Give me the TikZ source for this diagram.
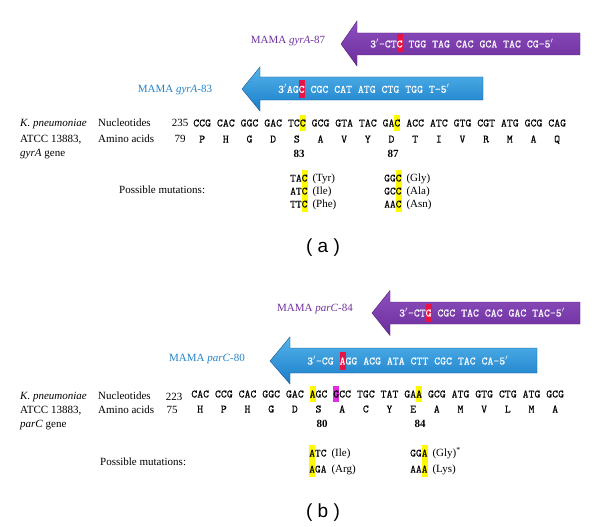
\documentclass[tikz,border=0pt]{standalone}
\usepackage{fontspec}
\setmainfont{Liberation Serif}
\setmonofont{lmmono10-regular.otf}[FakeBold=0.25]
\newfontfamily\panelfont{Liberation Sans}
\usepackage{tikz}

\definecolor{primerpurple}{RGB}{108,45,155}
\definecolor{primerpurpletop}{RGB}{140,80,190}
\definecolor{primerpurpleedge}{RGB}{85,30,125}
\definecolor{primerblue}{RGB}{25,125,200}
\definecolor{primerbluetop}{RGB}{85,180,235}
\definecolor{primerblueedge}{RGB}{20,85,150}
\definecolor{labelpurple}{RGB}{112,48,160}
\definecolor{labelblue}{RGB}{35,130,200}
\definecolor{hlyellow}{RGB}{255,250,0}
\definecolor{hlred}{RGB}{232,20,70}
\definecolor{hlmagenta}{RGB}{225,45,225}

\newcommand{\hlcod}[2]{{\setlength{\fboxsep}{0pt}\colorbox{#1}{\rule[-4.5pt]{0pt}{16.5pt}#2}}}
\newcommand{\hlpr}[1]{{\setlength{\fboxsep}{0pt}\colorbox{hlred}{\rule[-5pt]{0pt}{18pt}#1}}}

\tikzset{
  txt/.style={inner sep=0pt, anchor=base west, font=\fontsize{11}{13}\selectfont},
  txtc/.style={txt, anchor=base},
  cod/.style={inner sep=0pt, anchor=base west, font=\ttfamily\fontsize{11.27}{13}\selectfont},
  primertxt/.style={cod, text=white},
  purplearrow/.style={draw=primerpurpleedge, top color=primerpurpletop, bottom color=primerpurple},
  bluearrow/.style={draw=primerblueedge, top color=primerbluetop, bottom color=primerblue},
  panel/.style={inner sep=0pt, font=\panelfont\fontsize{19}{22}\selectfont}
}

\begin{document}
\begin{tikzpicture}[x=1pt,y=-1pt]
\useasboundingbox (0,0) rectangle (600,527);

\draw[purplearrow] (341,44) -- (357,21) -- (357,33) -- (580,33) -- (580,55) -- (357,55) -- (357,66) -- cycle;
\node[primertxt] (p87) at (370,47.5) {3$'$-CT\hlpr{C} TGG TAG CAC GCA TAC CG-5$'$};
\node[txtc, text=labelpurple] (l87) at (288,43.5) {MAMA \textit{gyrA}-87};
\draw[bluearrow] (242,89) -- (260,67) -- (260,77) -- (483,77) -- (483,100) -- (260,100) -- (260,111) -- cycle;
\node[primertxt] (p83) at (278,92.8) {3$'$AG\hlpr{C} CGC CAT ATG CTG TGG T-5$'$};
\node[txtc, text=labelblue] (l83) at (175,92.5) {MAMA \textit{gyrA}-83};

\node[txt] (ka) at (20,126.7) {\textit{K. pneumoniae}};
\node[txt] (atcca) at (20,142.7) {ATCC 13883,};
\node[txt] (genea) at (20,156.7) {\textit{gyrA} gene};
\node[txt] (nuca) at (98,126.7) {Nucleotides};
\node[txt] (aaa) at (98,142.7) {Amino acids};
\node[txtc] (na) at (180,126.7) {235};
\node[txtc] (ma) at (180,142.7) {79};
\node[cod] (seqa) at (193.1,126.5) {CCG CAC GGC GAC TC\hlcod{hlyellow}{C} GCG GTA TAC GA\hlcod{hlyellow}{C} ACC ATC GTG CGT ATG GCG CAG};
\node[cod] (aminoa) at (199,142.5) {P~~~H~~~G~~~D~~~S~~~A~~~V~~~Y~~~D~~~T~~~I~~~V~~~R~~~M~~~A~~~Q};
\node[txtc, font=\bfseries\fontsize{11}{13}\selectfont] (s83) at (299,157) {83};
\node[txtc, font=\bfseries\fontsize{11}{13}\selectfont] (s87) at (393,157) {87};

\node[txt] (posa) at (119,193.5) {Possible mutations:};
\node[txt] (ma1) at (290,181.5) {{\ttfamily TA\hlcod{hlyellow}{C}}\hspace{5pt}(Tyr)};
\node[txt] (ma2) at (290,194.5) {{\ttfamily AT\hlcod{hlyellow}{C}}\hspace{5pt}(Ile)};
\node[txt] (ma3) at (290,207.5) {{\ttfamily TT\hlcod{hlyellow}{C}}\hspace{5pt}(Phe)};
\node[txt] (mb1) at (384,181.5) {{\ttfamily GG\hlcod{hlyellow}{C}}\hspace{5pt}(Gly)};
\node[txt] (mb2) at (384,194.5) {{\ttfamily GC\hlcod{hlyellow}{C}}\hspace{5pt}(Ala)};
\node[txt] (mb3) at (384,207.5) {{\ttfamily AA\hlcod{hlyellow}{C}}\hspace{5pt}(Asn)};
\node[panel] (capa) at (323,247.5) {( a )};

\draw[purplearrow] (372,313) -- (390,290.5) -- (390,302) -- (580,302) -- (580,324) -- (390,324) -- (390,335.5) -- cycle;
\node[primertxt] (p84) at (399,316.5) {3$'$-CT\hlpr{G} CGC TAC CAC GAC TAC-5$'$};
\node[txtc, text=labelpurple] (l84) at (315,311.5) {MAMA \textit{parC}-84};
\draw[bluearrow] (270,361) -- (290,337) -- (290,348) -- (537,348) -- (537,373) -- (290,373) -- (290,384) -- cycle;
\node[primertxt] (p80) at (307,364.5) {3$'$-CG \hlpr{A}GG ACG ATA CTT CGC TAC CA-5$'$};
\node[txtc, text=labelblue] (l80) at (207,361.5) {MAMA \textit{parC}-80};

\node[txt] (kb) at (20,399.5) {\textit{K. pneumoniae}};
\node[txt] (atccb) at (20,413.5) {ATCC 13883,};
\node[txt] (geneb) at (20,427.5) {\textit{parC} gene};
\node[txt] (nucb) at (98,399.5) {Nucleotides};
\node[txt] (aab) at (98,413.5) {Amino acids};
\node[txtc] (nb) at (174,400.5) {223};
\node[txtc] (mb) at (172,413.5) {75};
\node[cod] (seqb) at (191.1,397.5) {CAC CCG CAC GGC GAC \hlcod{hlyellow}{A}GC \hlcod{hlmagenta}{G}CC TGC TAT GA\hlcod{hlyellow}{A} GCG ATG GTG CTG ATG GCG};
\node[cod] (aminob) at (197,412.5) {H~~~P~~~H~~~G~~~D~~~S~~~A~~~C~~~Y~~~E~~~A~~~M~~~V~~~L~~~M~~~A};
\node[txtc, font=\bfseries\fontsize{11}{13}\selectfont] (s80) at (322,427) {80};
\node[txtc, font=\bfseries\fontsize{11}{13}\selectfont] (s84) at (420,427) {84};

\node[txt] (posb) at (100,465.5) {Possible mutations:};
\node[txt] (mc1) at (309,456.5) {{\ttfamily \hlcod{hlyellow}{A}TC}\hspace{5pt}(Ile)};
\node[txt] (mc2) at (309,472.5) {{\ttfamily \hlcod{hlyellow}{A}GA}\hspace{5pt}(Arg)};
\node[txt] (md1) at (410,456.5) {{\ttfamily GG\hlcod{hlyellow}{A}}\hspace{5pt}(Gly)\textsuperscript{*}};
\node[txt] (md2) at (410,472.5) {{\ttfamily AA\hlcod{hlyellow}{A}}\hspace{5pt}(Lys)};
\node[panel] (capb) at (323,513) {( b )};
\end{tikzpicture}
\end{document}
